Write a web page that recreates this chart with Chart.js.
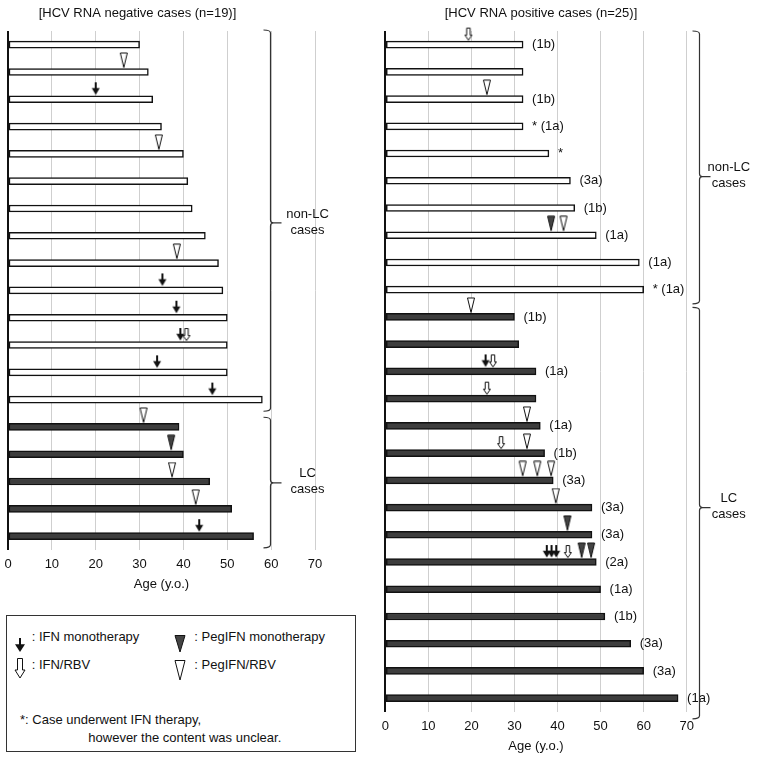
<!DOCTYPE html>
<html>
<head>
<meta charset="utf-8">
<script src="https://cdn.jsdelivr.net/npm/chart.js@4.4.0/dist/chart.umd.min.js"></script>
<style>
    body { margin: 0; background: #fff; font-family: "Liberation Sans", Arial, sans-serif; }
    #wrap { position: relative; width: 765px; height: 760px; overflow: hidden; }
    #chartLeft { position: absolute; left: 0; top: 0; }
    #chartRight { position: absolute; left: 380px; top: 0; }
    .legend { position: absolute; left: 6px; top: 615px; width: 350px; height: 137px; border: 1px solid #333; box-sizing: border-box; }
    .lg { position: absolute; font-size: 13px; line-height: 16px; color: #111; white-space: nowrap; }
    .mk { position: absolute; }
</style>
</head>
<body>
<div id="wrap">
    <canvas id="chartLeft" width="380" height="600"></canvas>
    <canvas id="chartRight" width="385" height="760"></canvas>
    <div class="legend"></div>
</div>
<script>
// ---- data: HCV RNA negative cases (n=19) ----
const leftCases = ['N1', 'N2', 'N3', 'N4', 'N5', 'N6', 'N7', 'N8', 'N9', 'N10',
    'N11', 'N12', 'N13', 'N14', 'N15', 'N16', 'N17', 'N18', 'N19'];
const leftAges = [30, 32, 33, 35, 40, 41, 42, 45, 48, 49, 50, 50, 50, 58, 39, 40, 46, 51, 56];
const leftLC = [0, 0, 0, 0, 0, 0, 0, 0, 0, 0, 0, 0, 0, 0, 1, 1, 1, 1, 1];
// [case number, age at therapy]
const leftIFN = [[3, 20], [10, 35.2], [11, 38.4], [12, 39.3], [13, 34], [14, 46.6], [19, 43.6]];
const leftIFNRBV = [[12, 40.7]];
const leftPegIFN = [[16, 37.2]];
const leftPegRBV = [[2, 26.4], [5, 34.4], [9, 38.5], [15, 30.9], [17, 37.4], [18, 42.8]];

// ---- data: HCV RNA positive cases (n=25) ----
const rightCases = ['P1', 'P2', 'P3', 'P4', 'P5', 'P6', 'P7', 'P8', 'P9', 'P10',
    'P11', 'P12', 'P13', 'P14', 'P15', 'P16', 'P17', 'P18', 'P19', 'P20',
    'P21', 'P22', 'P23', 'P24', 'P25'];
const rightAges = [32, 32, 32, 32, 38, 43, 44, 49, 59, 60, 30, 31, 35, 35, 36, 37, 39, 48, 48, 49, 50, 51, 57, 60, 68];
const rightLC = [0, 0, 0, 0, 0, 0, 0, 0, 0, 0, 1, 1, 1, 1, 1, 1, 1, 1, 1, 1, 1, 1, 1, 1, 1];
const rightGenotype = ['(1b)', '', '(1b)', '* (1a)', '*', '(3a)', '(1b)', '(1a)', '(1a)', '* (1a)',
    '(1b)', '', '(1a)', '', '(1a)', '(1b)', '(3a)', '(3a)', '(3a)', '(2a)',
    '(1a)', '(1b)', '(3a)', '(3a)', '(1a)'];
const rightIFN = [[13, 23.3], [20, 37.5], [20, 38.6], [20, 39.7]];
const rightIFNRBV = [[1, 19.3], [13, 25.0], [14, 23.6], [16, 26.9], [20, 42.4]];
const rightPegIFN = [[8, 38.5], [19, 42.3], [20, 45.6], [20, 47.8]];
const rightPegRBV = [[3, 23.6], [8, 41.4], [11, 19.9], [15, 32.9], [16, 32.9], [17, 31.9], [17, 35.3], [17, 38.5], [18, 39.6]];

const ageTicks = [0, 10, 20, 30, 40, 50, 60, 70];

const FONT = '13px "Liberation Sans", Arial, sans-serif';
Chart.defaults.font.family = '"Liberation Sans", Arial, sans-serif';
Chart.defaults.font.size = 13;
Chart.defaults.color = '#111';

// marker drawn with its tip at (cw/2, tipY)
function makeMarker(kind, w, h, cw, ch, tipY) {
    const c = document.createElement('canvas');
    c.width = cw; c.height = ch;
    const g = c.getContext('2d');
    const cx = cw / 2, top = tipY - h;
    g.lineWidth = 1;
    g.strokeStyle = '#111';
    g.beginPath();
    if (kind === 'ifn') {
        const hy = top + h * 0.45;
        g.fillStyle = '#111';
        g.fillRect(cx - 1, top, 2, hy - top + 1);
        g.moveTo(cx - w / 2, hy); g.lineTo(cx + w / 2, hy); g.lineTo(cx, tipY); g.closePath();
        g.fill();
    } else if (kind === 'ifnrbv') {
        const hy = top + h * 0.6, s = w * 0.25;
        g.moveTo(cx - s, top + 0.5); g.lineTo(cx + s, top + 0.5); g.lineTo(cx + s, hy);
        g.lineTo(cx + w / 2, hy); g.lineTo(cx, tipY); g.lineTo(cx - w / 2, hy); g.lineTo(cx - s, hy);
        g.closePath();
        g.fillStyle = '#fff'; g.fill(); g.stroke();
    } else {
        g.moveTo(cx - w / 2, top + 0.5); g.lineTo(cx + w / 2, top + 0.5); g.lineTo(cx, tipY); g.closePath();
        g.fillStyle = kind === 'peg' ? '#444' : '#fff';
        g.fill(); g.stroke();
    }
    return c;
}

const markerImg = {
    ifn: makeMarker('ifn', 8, 12.5, 14, 40, 15.5),
    ifnrbv: makeMarker('ifnrbv', 7, 12.5, 14, 40, 15.5),
    peg: makeMarker('peg', 7, 15, 14, 40, 15.5),
    pegrbv: makeMarker('pegrbv', 7, 15, 14, 40, 15.5)
};

function markerSet(points, cases, img) {
    return {
        type: 'scatter',
        data: points.map(p => ({ x: p[1], y: cases[p[0] - 1] })),
        pointStyle: img,
        pointRadius: 4,
        clip: false,
        order: 0
    };
}

// titles, genotype notes and braces
function makeDecor(cfg) {
    return {
        id: 'panelDecor',
        afterDraw(chart) {
            const ctx = chart.ctx, xs = chart.scales.x, ys = chart.scales.y;
            const step = ys.getPixelForValue(1) - ys.getPixelForValue(0);
            ctx.save();
            ctx.fillStyle = '#111';
            ctx.font = FONT;
            ctx.textBaseline = 'middle';
            ctx.textAlign = 'center';
            ctx.fillText(cfg.title, cfg.titleX, 13);

            ctx.textAlign = 'left';
            (cfg.notes || []).forEach((t, i) => {
                if (t) ctx.fillText(t, xs.getPixelForValue(cfg.ages[i]) + 9, ys.getPixelForValue(i));
            });

            ctx.strokeStyle = '#333';
            ctx.lineWidth = 1.2;
            cfg.braces.forEach(b => {
                const x = cfg.braceX;
                const y1 = ys.getPixelForValue(b.first) - step / 2 + b.pad[0];
                const y2 = ys.getPixelForValue(b.last) + step / 2 + b.pad[1];
                const ym = ys.getPixelForValue(b.mid);
                ctx.beginPath();
                ctx.moveTo(x - 7, y1); ctx.quadraticCurveTo(x, y1, x, y1 + 3);
                ctx.lineTo(x, ym - 3); ctx.quadraticCurveTo(x, ym, x + 3, ym); ctx.lineTo(x + 11, ym);
                ctx.moveTo(x + 3, ym); ctx.quadraticCurveTo(x, ym, x, ym + 3);
                ctx.lineTo(x, y2 - 3); ctx.quadraticCurveTo(x, y2, x - 7, y2);
                ctx.stroke();
                ctx.textAlign = 'center';
                ctx.fillText(b.text[0], cfg.labelX, ym - 9);
                ctx.fillText(b.text[1], cfg.labelX, ym + 7);
            });
            ctx.restore();
        }
    };
}

function drawPanel(canvasId, cases, ages, lc, marks, padding, decor) {
    new Chart(document.getElementById(canvasId), {
        type: 'bar',
        data: {
            labels: cases,
            datasets: [
                {
                    data: ages,
                    backgroundColor: lc.map(v => v ? '#3d3d3d' : '#fff'),
                    borderColor: '#111',
                    borderWidth: 1.5,
                    borderSkipped: false,
                    barThickness: 7,
                    order: 1
                },
                markerSet(marks.ifn, cases, markerImg.ifn),
                markerSet(marks.ifnrbv, cases, markerImg.ifnrbv),
                markerSet(marks.peg, cases, markerImg.peg),
                markerSet(marks.pegrbv, cases, markerImg.pegrbv)
            ]
        },
        options: {
            indexAxis: 'y',
            responsive: false,
            animation: false,
            events: [],
            layout: { padding: padding },
            plugins: { legend: { display: false }, tooltip: { enabled: false } },
            scales: {
                y: { type: 'category', display: false, offset: true },
                x: {
                    type: 'linear', min: 0, max: 70,
                    afterBuildTicks: s => { s.ticks = ageTicks.map(v => ({ value: v })); },
                    border: { display: false },
                    grid: {
                        drawTicks: true,
                        tickLength: 7,
                        tickColor: 'rgba(0,0,0,0)',
                        color: c => (c.tick && c.tick.value === 0) ? '#111' : '#cfcfcf',
                        lineWidth: c => (c.tick && c.tick.value === 0) ? 2 : 1
                    },
                    ticks: { padding: 0, color: '#111' },
                    title: { display: true, text: 'Age (y.o.)', color: '#111', padding: { top: 4, bottom: 4 } }
                }
            }
        },
        plugins: [makeDecor(decor)]
    });
}

drawPanel('chartLeft', leftCases, leftAges, leftLC,
    { ifn: leftIFN, ifnrbv: leftIFNRBV, peg: leftPegIFN, pegrbv: leftPegRBV },
    { left: 8, right: 65, top: 31, bottom: 4 },
    {
        title: '[HCV RNA negative cases (n=19)]', titleX: 137.5,
        braceX: 270.5, labelX: 307.5,
        braces: [
            { first: 0, last: 13, mid: 6.53, pad: [-1, -2], text: ['non-LC', 'cases'] },
            { first: 14, last: 18, mid: 16.05, pad: [4, -2], text: ['LC', 'cases'] }
        ]
    });

drawPanel('chartRight', rightCases, rightAges, rightLC,
    { ifn: rightIFN, ifnrbv: rightIFNRBV, peg: rightPegIFN, pegrbv: rightPegRBV },
    { left: 5.3, right: 78.3, top: 31, bottom: 2 },
    {
        title: '[HCV RNA positive cases (n=25)]', titleX: 161,
        braceX: 319.5, labelX: 348.8,
        notes: rightGenotype, ages: rightAges,
        braces: [
            { first: 0, last: 9, mid: 4.85, pad: [0, 0.5], text: ['non-LC', 'cases'] },
            { first: 10, last: 24, mid: 17, pad: [4, 7], text: ['LC', 'cases'] }
        ]
    });

// ---- legend box ----
const legend = document.querySelector('.legend');
const legendItems = [
    { kind: 'ifn', w: 10, h: 14, cx: 20, top: 638, text: ': IFN monotherapy', tx: 31.7, ty: 637 },
    { kind: 'peg', w: 10, h: 17, cx: 180, top: 635, text: ': PegIFN monotherapy', tx: 194.3, ty: 637 },
    { kind: 'ifnrbv', w: 10, h: 20, cx: 20, top: 658, text: ': IFN/RBV', tx: 31.7, ty: 665 },
    { kind: 'pegrbv', w: 10, h: 20, cx: 180, top: 660, text: ': PegIFN/RBV', tx: 194.3, ty: 665 }
];
legendItems.forEach(it => {
    const c = makeMarker(it.kind, it.w, it.h, 14, it.h + 4, it.h + 2);
    c.className = 'mk';
    c.style.left = (it.cx - 7 - 7) + 'px';
    c.style.top = (it.top - 2 - 616) + 'px';
    legend.appendChild(c);
    const s = document.createElement('span');
    s.className = 'lg';
    s.textContent = it.text;
    s.style.left = (it.tx - 7) + 'px';
    s.style.top = (it.ty - 8 - 616) + 'px';
    legend.appendChild(s);
});
[
    { text: '*: Case underwent IFN therapy,', x: 20, y: 720 },
    { text: 'however the content was unclear.', x: 88.3, y: 738 }
].forEach(n => {
    const s = document.createElement('span');
    s.className = 'lg';
    s.textContent = n.text;
    s.style.left = (n.x - 7) + 'px';
    s.style.top = (n.y - 8 - 616) + 'px';
    legend.appendChild(s);
});
</script>
</body>
</html>
